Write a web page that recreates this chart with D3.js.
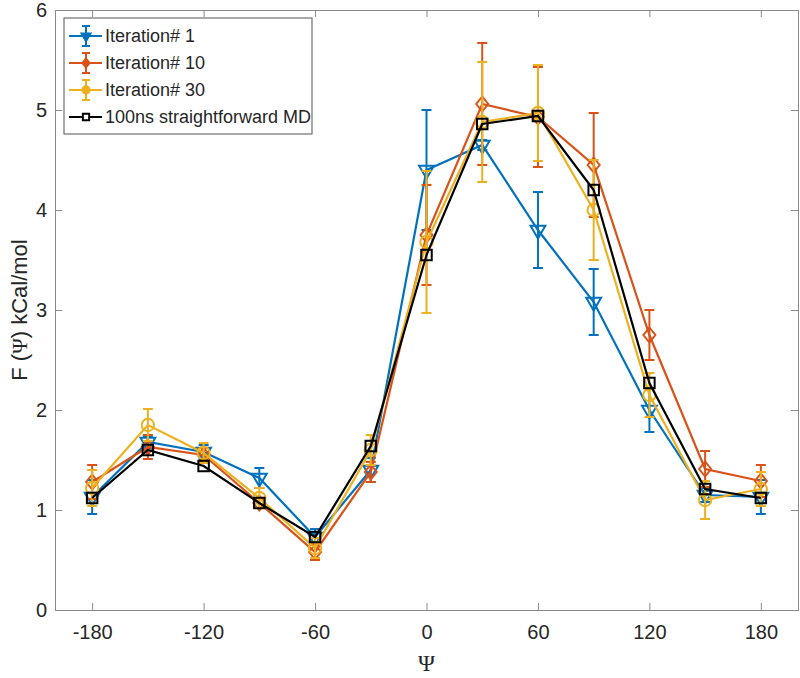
<!DOCTYPE html>
<html>
<head>
<meta charset="utf-8">
<script src="https://cdn.jsdelivr.net/npm/d3@7"></script>
<style>
  body { margin: 0; background: #fff; }
  svg text { font-family: "Liberation Sans", Arial, sans-serif; fill: #262626; }
</style>
</head>
<body>
<svg id="chart" width="800" height="678"></svg>
<script>
// data
const psi = [-180, -150, -120, -90, -60, -30, 0, 30, 60, 90, 120, 150, 180];
const iter1 = [1.13, 1.68, 1.58, 1.32, 0.73, 1.40, 4.40, 4.65, 3.80, 3.08, 2.00, 1.15, 1.13];
const iter1Err = [0.17, 0.06, 0.07, 0.10, 0.08, 0.12, 0.60, 0.05, 0.38, 0.33, 0.22, 0.07, 0.17];
const iter10 = [1.28, 1.63, 1.55, 1.07, 0.58, 1.38, 3.75, 5.06, 4.93, 4.45, 2.75, 1.41, 1.29];
const iter10Err = [0.17, 0.12, 0.07, 0.05, 0.08, 0.10, 0.50, 0.61, 0.50, 0.52, 0.25, 0.18, 0.16];
const iter30 = [1.22, 1.85, 1.57, 1.12, 0.62, 1.60, 3.68, 4.88, 4.97, 4.00, 2.15, 1.10, 1.21];
const iter30Err = [0.18, 0.16, 0.10, 0.10, 0.10, 0.15, 0.71, 0.60, 0.48, 0.50, 0.22, 0.19, 0.17];
const md = [1.12, 1.60, 1.44, 1.07, 0.73, 1.64, 3.55, 4.86, 4.94, 4.20, 2.27, 1.21, 1.12];

const xTicks = [-180, -120, -60, 0, 60, 120, 180];
const yTicks = [0, 1, 2, 3, 4, 5, 6];

const series = [
  { name: "Iteration# 1", vals: iter1, err: iter1Err, color: "#0072BD", marker: "tri" },
  { name: "Iteration# 10", vals: iter10, err: iter10Err, color: "#D95319", marker: "diamond" },
  { name: "Iteration# 30", vals: iter30, err: iter30Err, color: "#EDB120", marker: "circle" },
  { name: "100ns straightforward MD", vals: md, err: null, color: "#000000", marker: "square" }
];

const svg = d3.select("#chart");
const pLeft = 55, pRight = 798, pTop = 10, pBottom = 610;

const x = d3.scaleLinear().domain([-200, 200]).range([pLeft, pRight]);
const y = d3.scaleLinear().domain([0, 6]).range([pBottom, pTop]);

// plain hyphen minus like matlab
const fmt = d => String(d);

// axes box, matlab style ticks pointing in
const tickLen = 7;
const axisColor = "#8a8a8a";
svg.append("g")
  .attr("transform", `translate(0,${pBottom})`)
  .call(d3.axisBottom(x).tickValues(xTicks).tickFormat(fmt).tickSizeInner(-tickLen).tickSizeOuter(0).tickPadding(15))
  .call(g => g.select(".domain").attr("stroke", axisColor))
  .call(g => g.selectAll(".tick line").attr("stroke", axisColor))
  .call(g => g.selectAll(".tick text").attr("font-size", 20).attr("fill", "#262626"));

svg.append("g")
  .attr("transform", `translate(${pLeft},0)`)
  .call(d3.axisLeft(y).tickValues(yTicks).tickFormat(fmt).tickSizeInner(-tickLen).tickSizeOuter(0).tickPadding(8))
  .call(g => g.select(".domain").attr("stroke", axisColor))
  .call(g => g.selectAll(".tick line").attr("stroke", axisColor))
  .call(g => g.selectAll(".tick text").attr("font-size", 20).attr("fill", "#262626"));

svg.append("g")
  .attr("transform", `translate(0,${pTop})`)
  .call(d3.axisTop(x).tickValues(xTicks).tickSizeInner(-tickLen).tickSizeOuter(0).tickFormat(""))
  .call(g => g.select(".domain").attr("stroke", axisColor))
  .call(g => g.selectAll(".tick line").attr("stroke", axisColor));

svg.append("g")
  .attr("transform", `translate(${pRight},0)`)
  .call(d3.axisRight(y).tickValues(yTicks).tickSizeInner(-tickLen).tickSizeOuter(0).tickFormat(""))
  .call(g => g.select(".domain").attr("stroke", axisColor))
  .call(g => g.selectAll(".tick line").attr("stroke", axisColor));

// axis labels
const serif = "'Liberation Serif', 'DejaVu Serif', serif";
const ylab = svg.append("text")
  .attr("transform", `translate(27,${(pTop + pBottom) / 2}) rotate(-90)`)
  .attr("text-anchor", "middle")
  .attr("font-size", 22);
ylab.append("tspan").text("F (");
ylab.append("tspan").style("font-family", serif).attr("font-size", 21).text("Ψ");
ylab.append("tspan").text(") kCal/mol");

svg.append("text")
  .style("font-family", serif)
  .attr("x", x(0)).attr("y", 671)
  .attr("text-anchor", "middle")
  .attr("font-size", 23)
  .text("Ψ");

function diamond(w, h) {
  return `M0,${-h / 2}L${w / 2},0L0,${h / 2}L${-w / 2},0Z`;
}
function markerPath(type, scale) {
  const s = scale || 1;
  if (type === "tri") return d3.symbol(d3.symbolTriangle, 95 * s * s)();
  if (type === "diamond") return diamond(12 * s, 15 * s);
  if (type === "circle") return d3.symbol(d3.symbolCircle, 120 * s * s)();
  return d3.symbol(d3.symbolSquare, 110 * s * s)();
}
function markerRot(type) { return type === "tri" ? " rotate(180)" : ""; }

const line = d3.line().x(d => x(d.p)).y(d => y(d.v));
const cap = 5;

series.forEach(s => {
  const pts = psi.map((p, i) => ({ p, v: s.vals[i], e: s.err ? s.err[i] : 0 }));
  const g = svg.append("g");
  if (s.err) {
    const eb = g.selectAll(".eb").data(pts).enter().append("g")
      .attr("stroke", s.color).attr("stroke-width", 2).attr("fill", "none");
    eb.append("line")
      .attr("x1", d => x(d.p)).attr("x2", d => x(d.p))
      .attr("y1", d => y(d.v - d.e)).attr("y2", d => y(d.v + d.e));
    eb.append("line")
      .attr("x1", d => x(d.p) - cap).attr("x2", d => x(d.p) + cap)
      .attr("y1", d => y(d.v + d.e)).attr("y2", d => y(d.v + d.e));
    eb.append("line")
      .attr("x1", d => x(d.p) - cap).attr("x2", d => x(d.p) + cap)
      .attr("y1", d => y(d.v - d.e)).attr("y2", d => y(d.v - d.e));
  }
  g.append("path").datum(pts)
    .attr("d", line)
    .attr("fill", "none").attr("stroke", s.color).attr("stroke-width", 2.2);
  g.selectAll(".mk").data(pts).enter().append("path")
    .attr("d", markerPath(s.marker))
    .attr("transform", d => `translate(${x(d.p)},${y(d.v)})${markerRot(s.marker)}`)
    .attr("fill", "none").attr("stroke", s.color).attr("stroke-width", 2);
});

// legend
const lx = 64, ly = 18, lw = 248, rowH = 27;
const leg = svg.append("g");
leg.append("rect")
  .attr("x", lx).attr("y", ly).attr("width", lw).attr("height", rowH * 4 + 8)
  .attr("fill", "#fff").attr("stroke", "#555").attr("stroke-width", 1);
series.forEach((s, i) => {
  const cy = ly + 18 + i * rowH;
  const cx = lx + 22;
  const r = leg.append("g").attr("stroke", s.color).attr("stroke-width", 2).attr("fill", "none");
  r.append("line").attr("x1", lx + 5).attr("x2", lx + 38).attr("y1", cy).attr("y2", cy);
  if (s.err) {
    r.append("line").attr("x1", cx).attr("x2", cx).attr("y1", cy - 10).attr("y2", cy + 10);
    r.append("line").attr("x1", cx - 4).attr("x2", cx + 4).attr("y1", cy - 10).attr("y2", cy - 10);
    r.append("line").attr("x1", cx - 4).attr("x2", cx + 4).attr("y1", cy + 10).attr("y2", cy + 10);
  }
  r.append("path")
    .attr("d", markerPath(s.marker, 0.6))
    .attr("transform", `translate(${cx},${cy})${markerRot(s.marker)}`)
    .attr("fill", s.err ? s.color : "#fff");
  leg.append("text")
    .attr("x", lx + 41).attr("y", cy)
    .attr("dy", "0.35em")
    .attr("font-size", 18)
    .text(s.name);
});
</script>
</body>
</html>
